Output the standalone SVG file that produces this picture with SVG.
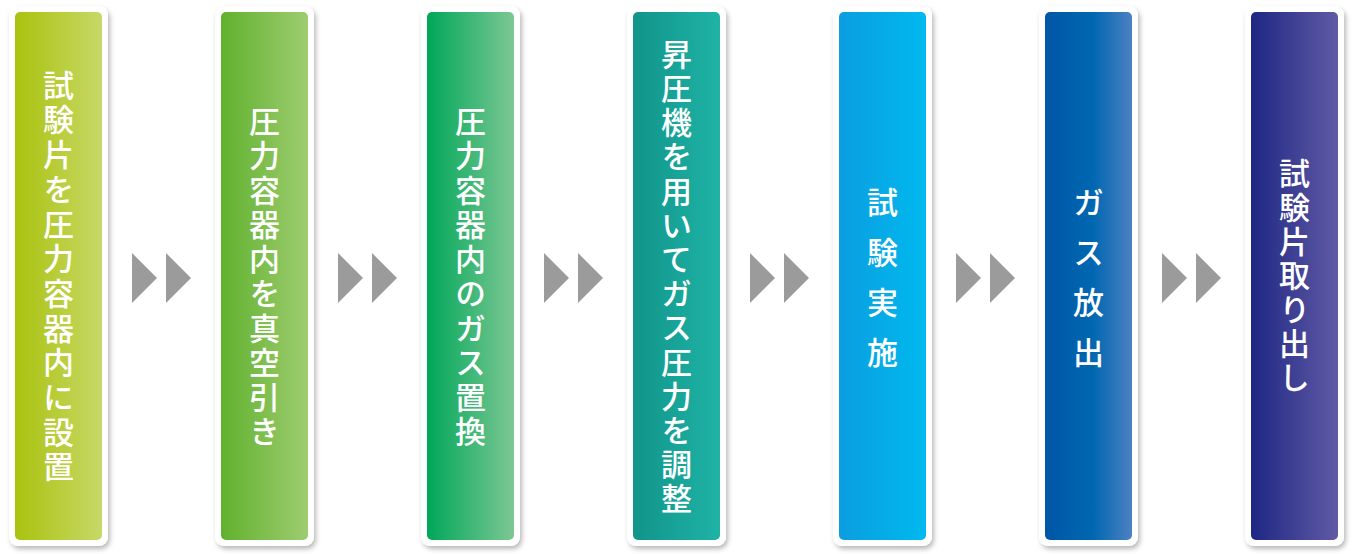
<svg xmlns="http://www.w3.org/2000/svg" width="1354" height="554" viewBox="0 0 1354 554">
<defs>
<filter id="sh" x="-20%" y="-5%" width="140%" height="112%">
<feDropShadow dx="2" dy="3" stdDeviation="2.5" flood-color="#000" flood-opacity="0.28"/>
</filter>
<linearGradient id="g1" x1="0" y1="0" x2="1" y2="0"><stop offset="0" stop-color="#aac20e"/><stop offset="1" stop-color="#c7d867"/></linearGradient>
<linearGradient id="g2" x1="0" y1="0" x2="1" y2="0"><stop offset="0" stop-color="#60b12e"/><stop offset="1" stop-color="#9ecc70"/></linearGradient>
<linearGradient id="g3" x1="0" y1="0" x2="1" y2="0"><stop offset="0" stop-color="#00a759"/><stop offset="1" stop-color="#7dc794"/></linearGradient>
<linearGradient id="g4" x1="0" y1="0" x2="1" y2="0"><stop offset="0" stop-color="#11948a"/><stop offset="1" stop-color="#1fb3a6"/></linearGradient>
<linearGradient id="g5" x1="0" y1="0" x2="1" y2="0"><stop offset="0" stop-color="#0b9de0"/><stop offset="1" stop-color="#00b9ef"/></linearGradient>
<linearGradient id="g6" x1="0" y1="0" x2="1" y2="0"><stop offset="0" stop-color="#0056a6"/><stop offset="0.55" stop-color="#0067b1"/><stop offset="1" stop-color="#4c81c1"/></linearGradient>
<linearGradient id="g7" x1="0" y1="0" x2="1" y2="0"><stop offset="0" stop-color="#1e2783"/><stop offset="1" stop-color="#605aa5"/></linearGradient>
</defs>
<style>
.card{fill:#fff;filter:url(#sh)}
.lbl{font-family:"Noto Sans CJK JP","Noto Sans CJK SC",sans-serif;font-size:31px;font-weight:500;fill:#fff;text-anchor:middle;writing-mode:vertical-rl}
.arr{fill:#9b9b9b}
</style>
<g id="connectors">
<g id="c1"><polygon class="arr" points="132,253 157,278 132,303"/><polygon class="arr" points="166,253 191,278 166,303"/></g>
<g id="c2"><polygon class="arr" points="338,253 363,278 338,303"/><polygon class="arr" points="372,253 397,278 372,303"/></g>
<g id="c3"><polygon class="arr" points="544,253 569,278 544,303"/><polygon class="arr" points="578,253 603,278 578,303"/></g>
<g id="c4"><polygon class="arr" points="750,253 775,278 750,303"/><polygon class="arr" points="784,253 809,278 784,303"/></g>
<g id="c5"><polygon class="arr" points="956,253 981,278 956,303"/><polygon class="arr" points="990,253 1015,278 990,303"/></g>
<g id="c6"><polygon class="arr" points="1162,253 1187,278 1162,303"/><polygon class="arr" points="1196,253 1221,278 1196,303"/></g>
</g>
<g id="n1">
<rect class="card" x="9" y="6" width="99" height="540" rx="9"/>
<rect x="15" y="12" width="87" height="528" rx="5" fill="url(#g1)"/>
<text class="lbl" x="58.5" y="277.7" letter-spacing="3.7">試験片を圧力容器内に設置</text>
</g>
<g id="n2">
<rect class="card" x="215" y="6" width="99" height="540" rx="9"/>
<rect x="221" y="12" width="87" height="528" rx="5" fill="url(#g2)"/>
<text class="lbl" x="264.5" y="278" letter-spacing="3.5">圧力容器内を真空引き</text>
</g>
<g id="n3">
<rect class="card" x="421" y="6" width="99" height="540" rx="9"/>
<rect x="427" y="12" width="87" height="528" rx="5" fill="url(#g3)"/>
<text class="lbl" x="470.5" y="278" letter-spacing="3.5">圧力容器内のガス置換</text>
</g>
<g id="n4">
<rect class="card" x="627" y="6" width="99" height="540" rx="9"/>
<rect x="633" y="12" width="87" height="528" rx="5" fill="url(#g4)"/>
<text class="lbl" x="676.5" y="277.9" letter-spacing="3.2">昇圧機を用いてガス圧力を調整</text>
</g>
<g id="n5">
<rect class="card" x="833" y="6" width="99" height="540" rx="9"/>
<rect x="839" y="12" width="87" height="528" rx="5" fill="url(#g5)"/>
<text class="lbl" x="882.5" y="286.5" letter-spacing="19">試験実施</text>
</g>
<g id="n6">
<rect class="card" x="1039" y="6" width="99" height="540" rx="9"/>
<rect x="1045" y="12" width="87" height="528" rx="5" fill="url(#g6)"/>
<text class="lbl" x="1088.5" y="286.5" letter-spacing="19">ガス放出</text>
</g>
<g id="n7">
<rect class="card" x="1245" y="6" width="99" height="540" rx="9"/>
<rect x="1251" y="12" width="87" height="528" rx="5" fill="url(#g7)"/>
<text class="lbl" x="1294.5" y="276.5" letter-spacing="3">試験片取り出し</text>
</g>
</svg>
